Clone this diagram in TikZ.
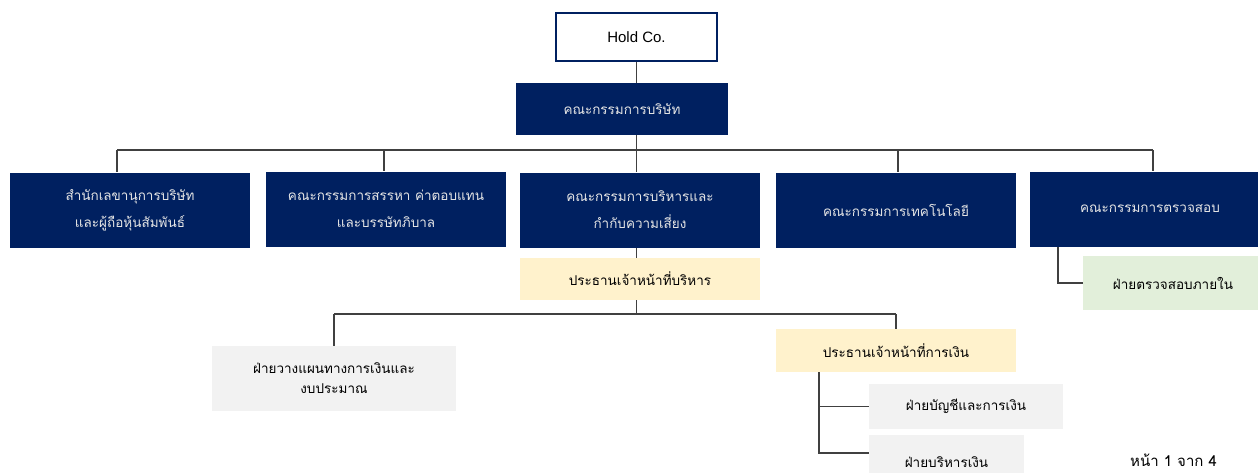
\documentclass[tikz,border=0pt]{standalone}
\usepackage{fontspec}
\setmainfont{Liberation Sans}
\newfontfamily\thai[Script=Thai]{Loma}
\definecolor{navy}{HTML}{002060}
\definecolor{ceo}{HTML}{FFF2CC}
\definecolor{audit}{HTML}{E2EFDA}
\definecolor{unit}{HTML}{F2F2F2}
\definecolor{linec}{HTML}{404040}
\tikzset{
  boxbase/.style={rectangle, inner sep=0pt, align=center, font=\thai\fontsize{13.5}{27}\selectfont},
  navybox/.style={boxbase, fill=navy, text=white!90!black, minimum width=240pt, minimum height=75pt},
  ceobox/.style={boxbase, fill=ceo, text=black},
  auditbox/.style={boxbase, fill=audit, text=black},
  unitbox/.style={boxbase, fill=unit, text=black},
  conn/.style={draw=linec, line width=1.4pt},
}
\begin{document}
\begin{tikzpicture}[x=1pt,y=-1pt]
\useasboundingbox (0,0) rectangle (1258,472);
\begin{scope}
\clip (0,0) rectangle (1258,472);
\coordinate (busL) at (117,150);
\coordinate (busR) at (1153,150);
\coordinate (bus2L) at (334,314);
\coordinate (bus2R) at (896,314);
\coordinate (cfoV) at (819,372);
\coordinate (auV) at (1058,247);

% nodes
\node[rectangle, draw=navy, line width=2pt, fill=white, minimum width=161pt, minimum height=48pt, inner sep=0pt, font=\fontsize{15}{18}\selectfont] (hold) at (636.5,37) {Hold Co.};
\node[navybox, minimum width=212pt, minimum height=52pt] (board) at (622,109) {คณะกรรมการบริษัท};
\node[navybox] (b1) at (130,210) {สำนักเลขานุการบริษัท\\และผู้ถือหุ้นสัมพันธ์};
\node[navybox] (b2) at (386,209) {คณะกรรมการสรรหา ค่าตอบแทน\\และบรรษัทภิบาล};
\node[navybox] (b3) at (640,210) {คณะกรรมการบริหารและ\\กำกับความเสี่ยง};
\node[navybox] (b4) at (896,210) {คณะกรรมการเทคโนโลยี};
\node[navybox] (b5) at (1150,209) {คณะกรรมการตรวจสอบ};
\node[ceobox, minimum width=240pt, minimum height=42pt] (ceo) at (640,279) {ประธานเจ้าหน้าที่บริหาร};
\node[auditbox, minimum width=180pt, minimum height=54pt] (aud) at (1173,283) {ฝ่ายตรวจสอบภายใน};
\node[unitbox, minimum width=244pt, minimum height=65pt, font=\thai\fontsize{13.5}{20}\selectfont] (plan) at (334,378.5) {ฝ่ายวางแผนทางการเงินและ\\งบประมาณ};
\node[ceobox, minimum width=240pt, minimum height=43pt] (cfo) at (896,350.5) {ประธานเจ้าหน้าที่การเงิน};
\node[unitbox, minimum width=194pt, minimum height=45pt] (acc) at (966,406.5) {ฝ่ายบัญชีและการเงิน};
\node[unitbox, minimum width=155pt, minimum height=54pt] (trs) at (946.5,462) {ฝ่ายบริหารเงิน};

% connectors
\draw[conn] (hold.south) -- (hold.south |- board.north);
\draw[conn] (board.south -| hold.south) -- (hold.south |- busL);
\draw[conn] (busL) -- (busR);
\draw[conn] (busL) -- (busL |- b1.north);
\draw[conn] (busL -| 384,0) -- (b2.north -| 384,0);
\draw[conn] (hold.south |- busL) -- (hold.south |- b3.north);
\draw[conn] (busL -| 898,0) -- (b4.north -| 898,0);
\draw[conn] (busR) -- (busR |- b5.north);
\draw[conn] (hold.south |- b3.south) -- (hold.south |- ceo.north);
\draw[conn] (hold.south |- ceo.south) -- (hold.south |- bus2L);
\draw[conn] (bus2L) -- (bus2R);
\draw[conn] (bus2L) -- (bus2L |- plan.north);
\draw[conn] (bus2R) -- (bus2R |- cfo.north);
\draw[conn] (cfoV |- cfo.south) -- (cfoV |- 0,453) -- (trs.west |- 0,453);
\draw[conn] (cfoV |- acc.west) -- (acc.west);
\draw[conn] (auV) -- (auV |- aud.west) -- (aud.west);
\end{scope}
\node[anchor=base west, inner sep=0pt, font=\thai\fontsize{15}{18}\selectfont] (pg) at (1130,466) {หน้า 1 จาก 4};
\end{tikzpicture}
\end{document}
